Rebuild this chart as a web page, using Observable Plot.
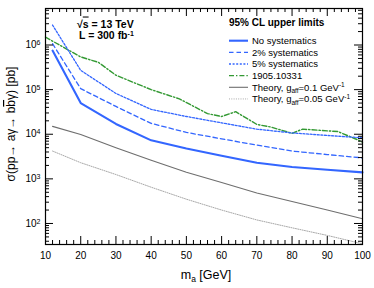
<!DOCTYPE html>
<html><head><meta charset="utf-8">
<script src="https://cdn.jsdelivr.net/npm/d3@7"></script>
<script src="https://cdn.jsdelivr.net/npm/@observablehq/plot@0.6"></script>
<style>
body{margin:0;background:#fff}
svg{font-family:"Liberation Sans",Arial,Helvetica,sans-serif}
</style>
</head><body><div id="chart"></div>
<script>
// ---- data ----
const massLimits = [12, 20, 30, 40, 50, 60, 70, 80, 90, 100];
const noSyst = [7.5e5, 5.0e4, 1.7e4, 7.3e3, 4.8e3, 3.3e3, 2.3e3, 1.85e3, 1.6e3, 1.4e3];
const syst2 = [1.07e6, 1.05e5, 4.2e4, 1.75e4, 1.1e4, 7.9e3, 5.7e3, 4.2e3, 3.5e3, 2.95e3];
const syst5 = [2.8e6, 2.7e5, 8.2e4, 3.6e4, 2.5e4, 1.8e4, 1.3e4, 1.07e4, 9.4e3, 8.3e3];
const massRef = [10, 20, 25, 30, 40, 48, 56, 60, 64, 70, 74, 80, 83, 93, 99, 100];
const ref1905 = [1.5e6, 5.4e5, 4.1e5, 2.1e5, 1.0e5, 6.2e4, 2.9e4, 2.5e4, 3.2e4, 1.66e4, 1.45e4, 1.05e4, 1.3e4, 1.15e4, 7.3e3, 6.6e3];
const massTheory = [12, 20, 30, 40, 50, 60, 70, 80, 90, 100];
const theory01 = [1.5e4, 9.9e3, 5.0e3, 2.6e3, 1.4e3, 830, 480, 310, 200, 128];
const theory005 = [4.2e3, 2.3e3, 1.25e3, 650, 350, 200, 120, 80, 54, 35];

const xTicks = [10, 20, 30, 40, 50, 60, 70, 80, 90, 100];
const xMinor = [12,14,16,18,22,24,26,28,32,34,36,38,42,44,46,48,52,54,56,58,62,64,66,68,72,74,76,78,82,84,86,88,92,94,96,98];
const yTicks = [1e2, 1e3, 1e4, 1e5, 1e6];
const yMinorMult = [2, 3, 4, 5, 6, 7, 8, 9];
const yMinorDecades = [1e1, 1e2, 1e3, 1e4, 1e5, 1e6];

const seriesNames = ["No systematics", "2% systematics", "5% systematics", "1905.10331"];

// ---- layout ----
const W = 374, H = 288, mL = 45, mR = 12, mT = 8, mB = 44;
const iw = W - mL - mR, ih = H - mT - mB;
const yDomain = [33.8, 6.58e6];
const yMinor = yMinorDecades.flatMap(d => yMinorMult.map(k => k * d)).filter(v => v > yDomain[0] && v < yDomain[1]);

const toRows = (xs, ys) => xs.map((x, i) => ({x, y: ys[i]}));
const rNo = toRows(massLimits, noSyst);
const r2 = toRows(massLimits, syst2);
const r5 = toRows(massLimits, syst5);
const rRef = toRows(massRef, ref1905);
const rT1 = toRows(massTheory, theory01);
const rT2 = toRows(massTheory, theory005);

const blue = "#3366ff", green = "#339933", grey = "#6e6e6e", lgrey = "#a8a8a8";

const chart = Plot.plot({
  width: W, height: H,
  marginLeft: mL, marginRight: mR, marginTop: mT, marginBottom: mB,
  style: {fontSize: "10px", fontFamily: '"Liberation Sans",Arial,sans-serif', color: "black", background: "white"},
  x: {domain: [10, 100]},
  y: {type: "log", domain: yDomain},
  marks: [
    Plot.line(rT2, {x: "x", y: "y", stroke: lgrey, strokeWidth: 1, strokeDasharray: "1,1.3"}),
    Plot.line(rT1, {x: "x", y: "y", stroke: grey, strokeWidth: 1.1}),
    Plot.line(rRef, {x: "x", y: "y", stroke: green, strokeWidth: 1.4, strokeDasharray: "5,2,1.4,2"}),
    Plot.line(r5, {x: "x", y: "y", stroke: blue, strokeWidth: 1.3, strokeDasharray: "2,1.6"}),
    Plot.line(r2, {x: "x", y: "y", stroke: blue, strokeWidth: 1.3, strokeDasharray: "4.5,3"}),
    Plot.line(rNo, {x: "x", y: "y", stroke: blue, strokeWidth: 2.1}),
    // ticks (inward, all four sides)
    Plot.tickX(xTicks, {x: d => d, insetTop: ih - 8, stroke: "black"}),
    Plot.tickX(xMinor, {x: d => d, insetTop: ih - 4, stroke: "black"}),
    Plot.tickX(xTicks, {x: d => d, insetBottom: ih - 8, stroke: "black"}),
    Plot.tickX(xMinor, {x: d => d, insetBottom: ih - 4, stroke: "black"}),
    Plot.tickY(yTicks, {y: d => d, insetRight: iw - 8, stroke: "black"}),
    Plot.tickY(yMinor, {y: d => d, insetRight: iw - 4, stroke: "black"}),
    Plot.tickY(yTicks, {y: d => d, insetLeft: iw - 8, stroke: "black"}),
    Plot.tickY(yMinor, {y: d => d, insetLeft: iw - 4, stroke: "black"}),
    Plot.axisX(xTicks, {tickSize: 0, tickPadding: 7, label: null, tickFormat: d => String(d), fontSize: 10}),
    Plot.axisY(yTicks, {tickSize: 0, tickPadding: 5, label: null, tickFormat: d => "10^" + Math.round(Math.log10(d)), fontSize: 10}),
    Plot.frame({stroke: "black", strokeWidth: 1.2})
  ]
});
document.getElementById("chart").appendChild(chart);

const svg = d3.select(chart);
// superscript exponents on y tick labels
svg.selectAll("text").each(function() {
  const t = d3.select(this).text();
  const m = /^10\^(\d+)$/.exec(t);
  if (m) {
    const el = d3.select(this);
    el.text("10");
    el.append("tspan").attr("dy", "-0.45em").attr("font-size", "7px").text(m[1]);
  }
});

const font = '"Liberation Sans",Arial,sans-serif';
const g = svg.append("g").attr("font-family", font).attr("fill", "black").attr("text-anchor", "start");

// y title
const yt = g.append("text").attr("transform", "translate(15,124) rotate(-90)")
  .attr("text-anchor", "middle").attr("font-size", "12px");
yt.append("tspan").text("σ(pp→ aγ→ b");
yt.append("tspan").style("text-decoration", "overline").text("b");
yt.append("tspan").text("γ) [pb]");

// x title
const xt = g.append("text").attr("x", 206).attr("y", 279).attr("text-anchor", "middle").attr("font-size", "12.5px");
xt.append("tspan").text("m");
xt.append("tspan").attr("font-size", "8.5px").attr("dy", "3").text("a");
xt.append("tspan").attr("dy", "-3").text(" [GeV]");

// energy / luminosity
const e1 = g.append("text").attr("x", 77).attr("y", 27.5).attr("font-size", "10.5px").attr("font-weight", "bold").attr("text-anchor", "start");
e1.append("tspan").text("√");
e1.append("tspan").style("text-decoration", "overline").text("s");
e1.append("tspan").text(" = 13 TeV");
const e2 = g.append("text").attr("x", 79).attr("y", 38.5).attr("font-size", "10.5px").attr("font-weight", "bold").attr("text-anchor", "start");
e2.append("tspan").text("L = 300 fb");
e2.append("tspan").attr("font-size", "7px").attr("dy", "-3").text("-1");

// legend
g.append("text").attr("x", 229).attr("y", 25.5).attr("font-size", "10px").attr("font-weight", "bold").attr("text-anchor", "start").text("95% CL upper limits");
const leg = [
  {label: seriesNames[0], stroke: blue, w: 2.1, dash: null},
  {label: seriesNames[1], stroke: blue, w: 1.3, dash: "4.5,3"},
  {label: seriesNames[2], stroke: blue, w: 1.3, dash: "2,1.6"},
  {label: seriesNames[3], stroke: green, w: 1.4, dash: "5,2,1.4,2"},
  {label: "theory1", stroke: grey, w: 1.1, dash: null},
  {label: "theory2", stroke: lgrey, w: 1, dash: "1,1.3"}
];
leg.forEach((d, i) => {
  const y = 40.7 + i * 11.65;
  g.append("line").attr("x1", 229).attr("x2", 248).attr("y1", y).attr("y2", y)
    .attr("stroke", d.stroke).attr("stroke-width", d.w).attr("stroke-dasharray", d.dash);
  const t = g.append("text").attr("x", 252).attr("y", y + 3.4).attr("font-size", "9.5px").attr("text-anchor", "start");
  if (d.label === "theory1" || d.label === "theory2") {
    t.append("tspan").text("Theory, g");
    t.append("tspan").attr("font-size", "6.5px").attr("dy", "2.5").text("aff");
    t.append("tspan").attr("dy", "-2.5").text(d.label === "theory1" ? "=0.1 GeV" : "=0.05 GeV");
    t.append("tspan").attr("font-size", "6.5px").attr("dy", "-3.5").text("-1");
  } else {
    t.text(d.label);
  }
});
</script>
</body></html>
